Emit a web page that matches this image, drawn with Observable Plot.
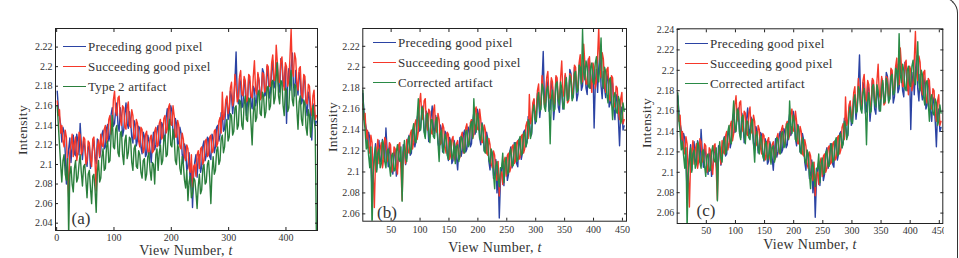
<!DOCTYPE html>
<html>
<head>
<meta charset="utf-8">
<script src="https://cdn.jsdelivr.net/npm/d3@7"></script>
<script src="https://cdn.jsdelivr.net/npm/@observablehq/plot@0.6"></script>
<style>
  html, body { margin: 0; padding: 0; background: #fff; }
  #fig { position: relative; width: 959px; height: 258px; overflow: hidden; background: #fff;
         font-family: "Liberation Serif", "DejaVu Serif", serif; color: #333; }
  .pnl { position: absolute; top: 0; height: 258px; overflow: hidden; }
  .pnl svg { display: block; max-width: none !important; }
  .leg { position: absolute; font-size: 13px; white-space: nowrap; line-height: 1; letter-spacing: 0.2px; }
  .leg .row { position: absolute; left: 0; display: flex; align-items: center; height: 14px; }
  .leg .sw { display: inline-block; width: 23px; height: 0; border-top: 1.5px solid; margin-right: 2px; }
  .ylab { position: absolute; font-size: 13.5px; transform: translate(-50%, -50%) rotate(-90deg); white-space: nowrap; letter-spacing: 0.3px; }
  .xlab { position: absolute; font-size: 14px; transform: translate(-50%, -50%); white-space: nowrap; letter-spacing: 0.3px; }
  .tag { position: absolute; font-size: 17px; transform: translate(-50%, -50%); }
  #border { position: absolute; top: -3px; right: 1px; width: 60px; height: 300px;
            border-top: 1.5px solid #333; border-right: 1.5px solid #333; border-top-right-radius: 16px; }
</style>
</head>
<body>
<div id="fig"></div>
<script>
// View numbers (x categories), sampled every 2 views: 1, 3, 5, ..., 453
const views = d3.range(1, 454, 2);

const preceding = [
2.175,2.158,2.148,2.141,2.123,2.138,2.133,2.112,2.080,2.104,
2.116,2.127,2.102,2.118,2.130,2.111,2.109,2.131,2.124,2.110,
2.142,2.121,2.105,2.124,2.118,2.106,2.098,2.117,2.120,2.096,
2.104,2.119,2.124,2.108,2.101,2.126,2.123,2.107,2.114,2.131,
2.135,2.116,2.118,2.137,2.141,2.124,2.130,2.151,2.158,2.139,
2.142,2.156,2.163,2.140,2.134,2.158,2.149,2.129,2.135,2.152,
2.163,2.142,2.137,2.154,2.144,2.128,2.122,2.145,2.141,2.119,
2.125,2.139,2.137,2.118,2.111,2.133,2.129,2.108,2.111,2.130,
2.124,2.114,2.102,2.121,2.133,2.115,2.120,2.136,2.140,2.119,
2.122,2.143,2.140,2.124,2.127,2.148,2.157,2.136,2.140,2.160,
2.155,2.133,2.126,2.147,2.142,2.120,2.122,2.138,2.132,2.110,
2.102,2.121,2.117,2.094,2.098,2.112,2.080,2.101,2.056,2.090,
2.103,2.110,2.087,2.106,2.110,2.092,2.098,2.119,2.124,2.104,
2.109,2.128,2.126,2.108,2.105,2.131,2.127,2.112,2.118,2.138,
2.140,2.124,2.130,2.153,2.150,2.134,2.136,2.162,2.169,2.146,
2.150,2.175,2.170,2.152,2.164,2.186,2.215,2.170,2.162,2.188,
2.183,2.158,2.160,2.187,2.181,2.150,2.164,2.190,2.184,2.162,
2.157,2.180,2.177,2.160,2.166,2.192,2.186,2.168,2.172,2.198,
2.194,2.170,2.172,2.200,2.190,2.168,2.174,2.196,2.206,2.178,
2.182,2.204,2.198,2.180,2.174,2.208,2.205,2.180,2.187,2.200,
2.142,2.184,2.198,2.176,2.199,2.214,2.182,2.170,2.196,2.180,
2.171,2.194,2.187,2.162,2.166,2.190,2.184,2.160,2.150,2.174,
2.168,2.150,2.125,2.158,2.162,2.140,2.144];

const succeeding = [
2.165,2.150,2.156,2.132,2.140,2.124,2.118,2.135,2.128,2.098,
2.066,2.112,2.120,2.131,2.108,2.122,2.128,2.104,2.112,2.133,
2.130,2.110,2.114,2.128,2.126,2.100,2.104,2.124,2.122,2.106,
2.098,2.126,2.128,2.102,2.073,2.118,2.125,2.108,2.131,2.120,
2.118,2.136,2.140,2.122,2.128,2.146,2.150,2.131,2.138,2.166,
2.175,2.154,2.150,2.168,2.170,2.146,2.140,2.160,2.158,2.138,
2.136,2.158,2.164,2.140,2.138,2.156,2.150,2.126,2.128,2.146,
2.142,2.124,2.118,2.138,2.136,2.112,2.116,2.131,2.134,2.114,
2.110,2.127,2.130,2.112,2.114,2.134,2.138,2.118,2.120,2.142,
2.146,2.126,2.128,2.147,2.150,2.132,2.136,2.158,2.162,2.141,
2.140,2.160,2.150,2.128,2.128,2.145,2.140,2.118,2.116,2.132,
2.126,2.108,2.104,2.120,2.116,2.096,2.092,2.110,2.077,2.098,
2.100,2.088,2.110,2.114,2.096,2.116,2.118,2.100,2.104,2.124,
2.126,2.108,2.110,2.128,2.130,2.112,2.114,2.134,2.136,2.118,
2.122,2.144,2.148,2.132,2.174,2.146,2.150,2.166,2.170,2.152,
2.158,2.178,2.184,2.160,2.166,2.192,2.180,2.164,2.168,2.190,
2.196,2.172,2.170,2.190,2.186,2.164,2.166,2.192,2.190,2.170,
2.168,2.190,2.206,2.176,2.172,2.194,2.186,2.166,2.168,2.194,
2.192,2.174,2.178,2.202,2.200,2.180,2.180,2.204,2.212,2.186,
2.186,2.222,2.204,2.184,2.184,2.206,2.210,2.188,2.176,2.204,
2.200,2.180,2.186,2.210,2.238,2.196,2.190,2.214,2.208,2.184,
2.176,2.198,2.200,2.172,2.168,2.192,2.190,2.164,2.162,2.182,
2.180,2.158,2.150,2.170,2.176,2.146,2.150];

const corrected = [
2.178,2.150,2.140,2.122,2.130,2.116,2.104,2.124,2.045,2.098,
2.112,2.124,2.100,2.118,2.122,2.104,2.108,2.130,2.126,2.110,
2.104,2.120,2.122,2.106,2.096,2.116,2.118,2.101,2.102,2.120,
2.126,2.112,2.110,2.124,2.072,2.118,2.130,2.114,2.110,2.128,
2.134,2.118,2.122,2.140,2.146,2.130,2.128,2.152,2.170,2.144,
2.140,2.162,2.160,2.138,2.132,2.154,2.156,2.136,2.128,2.150,
2.150,2.134,2.132,2.148,2.152,2.128,2.110,2.136,2.140,2.122,
2.118,2.136,2.132,2.116,2.112,2.128,2.130,2.112,2.116,2.128,
2.108,2.124,2.126,2.110,2.116,2.134,2.132,2.120,2.118,2.138,
2.140,2.124,2.126,2.144,2.148,2.132,2.170,2.146,2.138,2.156,
2.150,2.132,2.130,2.146,2.140,2.120,2.118,2.134,2.128,2.112,
2.108,2.122,2.118,2.098,2.084,2.106,2.110,2.094,2.086,2.104,
2.104,2.118,2.090,2.108,2.114,2.098,2.100,2.118,2.122,2.106,
2.106,2.124,2.128,2.110,2.112,2.130,2.134,2.116,2.118,2.136,
2.138,2.124,2.128,2.150,2.146,2.132,2.138,2.158,2.164,2.150,
2.148,2.170,2.176,2.158,2.160,2.184,2.180,2.162,2.158,2.178,
2.182,2.166,2.127,2.170,2.178,2.158,2.160,2.184,2.186,2.168,
2.164,2.186,2.180,2.162,2.160,2.182,2.190,2.168,2.170,2.192,
2.186,2.168,2.172,2.194,2.196,2.176,2.178,2.202,2.200,2.184,
2.236,2.196,2.188,2.206,2.200,2.182,2.180,2.200,2.204,2.186,
2.184,2.204,2.210,2.190,2.186,2.206,2.228,2.188,2.180,2.200,
2.196,2.174,2.166,2.188,2.190,2.168,2.150,2.172,2.176,2.158,
2.156,2.172,2.168,2.146,2.150,2.166,2.158];

const type2 = [
2.160,2.140,2.120,2.100,2.082,2.104,2.110,2.090,2.084,2.106,
2.028,2.090,2.098,2.080,2.072,2.096,2.104,2.082,2.086,2.100,
2.110,2.092,2.078,2.098,2.100,2.084,2.066,2.090,2.094,2.076,
2.060,2.088,2.090,2.074,2.051,2.092,2.104,2.082,2.086,2.108,
2.116,2.094,2.096,2.118,2.124,2.102,2.104,2.130,2.150,2.118,
2.116,2.136,2.140,2.112,2.108,2.132,2.134,2.110,2.100,2.124,
2.130,2.106,2.112,2.128,2.126,2.102,2.094,2.116,2.120,2.098,
2.096,2.114,2.110,2.092,2.086,2.104,2.106,2.084,2.090,2.108,
2.112,2.094,2.084,2.102,2.100,2.080,2.110,2.116,2.094,2.112,
2.120,2.100,2.104,2.126,2.130,2.108,2.110,2.134,2.146,2.120,
2.118,2.136,2.128,2.104,2.100,2.120,2.116,2.096,2.090,2.108,
2.100,2.084,2.076,2.094,2.063,2.082,2.088,2.066,2.070,2.086,
2.084,2.072,2.055,2.078,2.090,2.070,2.074,2.096,2.100,2.080,
2.082,2.100,2.104,2.086,2.060,2.092,2.108,2.090,2.094,2.114,
2.118,2.100,2.104,2.126,2.130,2.112,2.118,2.140,2.146,2.124,
2.128,2.152,2.150,2.130,2.134,2.158,2.160,2.136,2.140,2.166,
2.164,2.140,2.136,2.162,2.170,2.146,2.144,2.168,2.166,2.142,
2.120,2.152,2.168,2.144,2.148,2.172,2.176,2.152,2.150,2.174,
2.170,2.148,2.154,2.178,2.180,2.156,2.160,2.184,2.186,2.162,
2.168,2.190,2.204,2.170,2.162,2.186,2.184,2.160,2.150,2.178,
2.176,2.154,2.158,2.184,2.196,2.166,2.160,2.182,2.180,2.156,
2.136,2.164,2.170,2.146,2.140,2.166,2.162,2.138,2.130,2.156,
2.150,2.128,2.140,2.160,2.146,2.136,2.030];

const xTicksA = [0, 100, 200, 300, 400];
const xTicksBC = [50, 100, 150, 200, 250, 300, 350, 400, 450];
const yTicksA = [2.04, 2.06, 2.08, 2.1, 2.12, 2.14, 2.16, 2.18, 2.2, 2.22];
const yTicksB = [2.06, 2.08, 2.1, 2.12, 2.14, 2.16, 2.18, 2.2, 2.22];
const yTicksC = [2.06, 2.08, 2.1, 2.12, 2.14, 2.16, 2.18, 2.2, 2.22, 2.24];

const labelsA = ["Preceding good pixel", "Succeeding good pixel", "Type 2 artifact"];
const labelsBC = ["Preceding good pixel", "Succeeding good pixel", "Corrected artifact"];
const tags = ["(a)", "(b)", "(c)"];

const BLUE = "#2b43a3", RED = "#f5382a", GREEN = "#2a8a46", DKGREEN = "#2a7f3c";

const fig = document.getElementById("fig");

function panel(o) {
  const wrap = document.createElement("div");
  wrap.className = "pnl";
  wrap.style.left = o.left + "px";
  wrap.style.width = o.clipW + "px";
  const fmt = d => String(+d.toFixed(2));
  const chart = Plot.plot({
    width: o.width, height: 258,
    marginLeft: o.mL, marginRight: o.mR, marginTop: o.mT, marginBottom: o.mB,
    x: {domain: o.xDomain},
    y: {domain: o.yDomain},
    style: {fontFamily: "Liberation Serif, serif", fontSize: "10px", color: "#333", background: "transparent", maxWidth: "none"},
    marks: [
      ...o.series.map(s => Plot.line(s.values, {x: (d, i) => views[i], y: d => d, stroke: s.color, strokeWidth: 1.4, clip: true})),
      Plot.frame({stroke: "#222", strokeWidth: 1}),
      Plot.axisX({ticks: o.xTicks, tickSize: -3, tickPadding: o.xPad, tickFormat: d => String(d), label: null, stroke: "#222"}),
      Plot.axisX({anchor: "top", ticks: o.xTicks, tickSize: -3, tickFormat: () => "", label: null, stroke: "#222"}),
      Plot.axisY({ticks: o.yTicks, tickSize: -3, tickPadding: o.yPad, tickFormat: fmt, label: null, stroke: "#222"}),
      Plot.axisY({anchor: "right", ticks: o.yTicks, tickSize: -3, tickFormat: () => "", label: null, stroke: "#222"})
    ]
  });
  chart.style.maxWidth = "none";
  wrap.appendChild(chart);
  fig.appendChild(wrap);

  const leg = document.createElement("div");
  leg.className = "leg";
  leg.style.left = o.legX + "px";
  leg.style.top = "0px";
  o.series.forEach((s, i) => {
    const row = document.createElement("div");
    row.className = "row";
    row.style.top = (o.legY[i] - 7) + "px";
    const sw = document.createElement("span");
    sw.className = "sw";
    sw.style.borderTopColor = s.color;
    row.appendChild(sw);
    const t = document.createElement("span");
    t.textContent = o.labels[i];
    row.appendChild(t);
    leg.appendChild(row);
  });
  fig.appendChild(leg);

  const yl = document.createElement("div");
  yl.className = "ylab";
  yl.style.left = o.ylab[0] + "px"; yl.style.top = o.ylab[1] + "px";
  yl.textContent = "Intensity";
  fig.appendChild(yl);

  const xl = document.createElement("div");
  xl.className = "xlab";
  xl.style.left = o.xlab[0] + "px"; xl.style.top = o.xlab[1] + "px";
  xl.innerHTML = "View Number, <i>t</i>";
  fig.appendChild(xl);

  const tg = document.createElement("div");
  tg.className = "tag";
  tg.style.left = o.tag[0] + "px"; tg.style.top = o.tag[1] + "px";
  tg.textContent = o.tagText;
  fig.appendChild(tg);
}

panel({
  left: 0, width: 320, clipW: 320, mL: 55, mR: 3, mT: 28, mB: 28,
  xDomain: [-2, 455], yDomain: [2.0325, 2.239],
  xTicks: xTicksA, yTicks: yTicksA, xPad: 6, yPad: 6,
  series: [{values: preceding, color: BLUE}, {values: succeeding, color: RED}, {values: type2, color: DKGREEN}],
  labels: labelsA, legX: 63, legY: [46, 66.5, 86.5],
  ylab: [23, 130], xlab: [186, 250.5], tag: [81, 219], tagText: tags[0]
});
panel({
  left: 320, width: 320, clipW: 320, mL: 42.3, mR: 14, mT: 28, mB: 37.3,
  xDomain: [1, 457], yDomain: [2.053, 2.237],
  xTicks: xTicksBC, yTicks: yTicksB, xPad: 8, yPad: 6,
  series: [{values: preceding, color: BLUE}, {values: succeeding, color: RED}, {values: corrected, color: GREEN}],
  labels: labelsBC, legX: 373, legY: [42.7, 62.7, 82.7],
  ylab: [333, 127], xlab: [495, 247.5], tag: [387, 213], tagText: tags[1]
});
panel({
  left: 640, width: 319, clipW: 303.5, mL: 36.7, mR: 16.7, mT: 28.3, mB: 35,
  xDomain: [0, 456], yDomain: [2.0498, 2.2407],
  xTicks: xTicksBC, yTicks: yTicksC, xPad: 6, yPad: 6,
  series: [{values: preceding, color: BLUE}, {values: succeeding, color: RED}, {values: corrected, color: GREEN}],
  labels: labelsBC, legX: 685, legY: [43.3, 63.3, 83.3],
  ylab: [647, 123], xlab: [810, 244.5], tag: [706, 211], tagText: tags[2]
});

const border = document.createElement("div");
border.id = "border";
fig.appendChild(border);
</script>
</body>
</html>
